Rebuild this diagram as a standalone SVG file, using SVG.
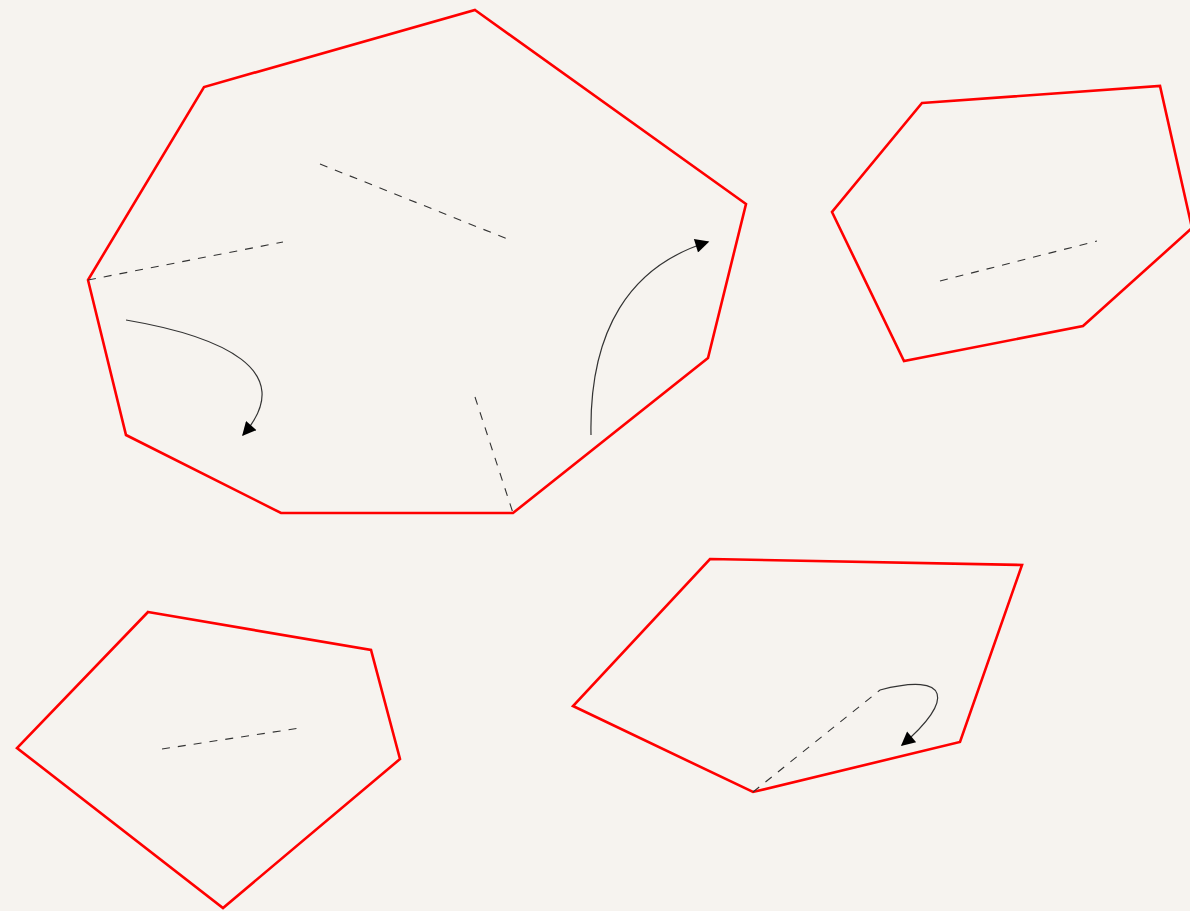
<svg xmlns="http://www.w3.org/2000/svg" width="1190" height="911" viewBox="0 0 1190 911">
<defs>
<style>
.poly{fill:none;stroke:#ff0000;stroke-width:2.6;stroke-linejoin:miter}
.dash{fill:none;stroke:#333;stroke-width:1.1;stroke-dasharray:8 8}
.curve{fill:none;stroke:#333;stroke-width:1.2}
</style>
<marker id="ah" viewBox="0 0 10 10" refX="9" refY="5" markerWidth="18" markerHeight="14" markerUnits="userSpaceOnUse" orient="auto">
<path d="M0,0 L10,5 L0,10 z" fill="#000"/>
</marker>
</defs>
<rect width="1190" height="911" fill="#f6f3ef"/>
<g id="node-big"><polygon class="poly" points="475,10 746,204 708,358 513,513 281,513 126,435 88,280 204,87"/></g>
<g id="node-right"><polygon class="poly" points="922,103 1160,86 1192,228 1083,326 904,361 832,212"/></g>
<g id="node-bottom-left"><polygon class="poly" points="148,612 371,650 400,759 223,908 17,748"/></g>
<g id="node-bottom-right"><polygon class="poly" points="710,559 1022,565 960,742 753,792 573,706"/></g>
<g id="connectors">
<line class="dash" x1="88" y1="280" x2="283" y2="242"/>
<line class="dash" x1="320" y1="164" x2="510" y2="240"/>
<line class="dash" x1="475" y1="397" x2="513" y2="513"/>
<line class="dash" x1="940" y1="281" x2="1097" y2="241"/>
<line class="dash" x1="162" y1="749" x2="300" y2="728"/>
<line class="dash" x1="753" y1="792" x2="880" y2="690"/>
<path class="curve" d="M126,320 C220,336 300,370 243,435" marker-end="url(#ah)"/>
<path class="curve" d="M591,435 C589,330 630,266 708,242" marker-end="url(#ah)"/>
<path class="curve" d="M880,690 C950,672 955,700 902,745" marker-end="url(#ah)"/>
</g>
</svg>
